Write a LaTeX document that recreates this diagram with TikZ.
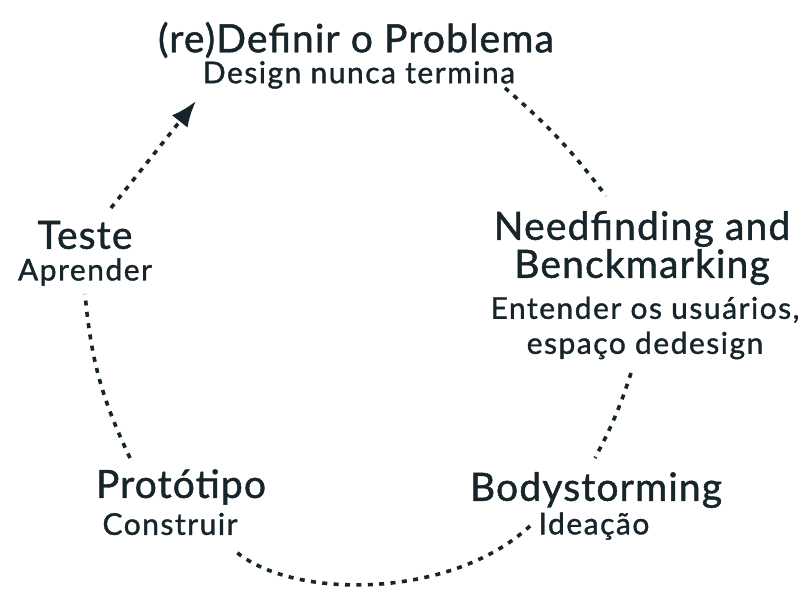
\documentclass[tikz,border=0pt]{standalone}
\usepackage{fontspec}
\setmainfont{Lato}[BoldFont={Lato},BoldFeatures={FakeBold=1.2}]
\usetikzlibrary{arrows.meta,calc}
\definecolor{ink}{HTML}{17252B}
\begin{document}
\begin{tikzpicture}[x=0.5pt,y=-0.5pt,
  every node/.style={text=ink,inner sep=0pt,align=center},
  stage/.style={font=\fontsize{19.5}{19}\selectfont\bfseries\addfontfeature{LetterSpace=3}},
  note/.style={font=\fontsize{15}{17.5}\selectfont\bfseries\addfontfeature{LetterSpace=5}},
  dotline/.style={draw=ink,line width=1.8pt,dash pattern=on 2.5pt off 3.2pt}]
\useasboundingbox (0,0) rectangle (802,608);

% stage titles and their short descriptions
\node[stage] (title) at (356,40) {(re)Definir o Problema};
\node[note]  (titlesub) at (359,75) {Design nunca termina};
\node[stage] (need) at (642,248) {Needfinding and\\Benckmarking};
\node[note]  (needsub) at (645,328) {Entender os usuários,\\espaço dedesign};
\node[stage] (body) at (596,490) {Bodystorming};
\node[note]  (bodysub) at (594,526) {Ideação};
\node[stage] (proto) at (181,487) {Protótipo};
\node[note]  (protosub) at (170,524) {Construir};
\node[stage] (teste) at (85,235) {Teste};
\node[note]  (testesub) at (85,272) {Aprender};
\coordinate (tip) at (196,101);

% dotted cycle between the stages
\draw[dotline] ([shift={(146,13)}]titlesub.center) to[bend left=6] ([shift={(-36,-52)}]need.center);
\draw[dotline] ([shift={(-14,45)}]needsub.center) to[bend left=5] ([shift={(-1,-32)}]body.center);
\draw[dotline] ([shift={(-64,0)}]bodysub.center) .. controls (450,600) and (290,600) .. ([shift={(64,26)}]protosub.center);
\draw[dotline] ([shift={(-51,-29)}]proto.center) to[bend left=10] ([shift={(0,22)}]testesub.center);
\draw[dotline,-{Latex[length=13pt,width=10pt]}] ([shift={(26,-27)}]teste.center) -- (tip);
\end{tikzpicture}
\end{document}
